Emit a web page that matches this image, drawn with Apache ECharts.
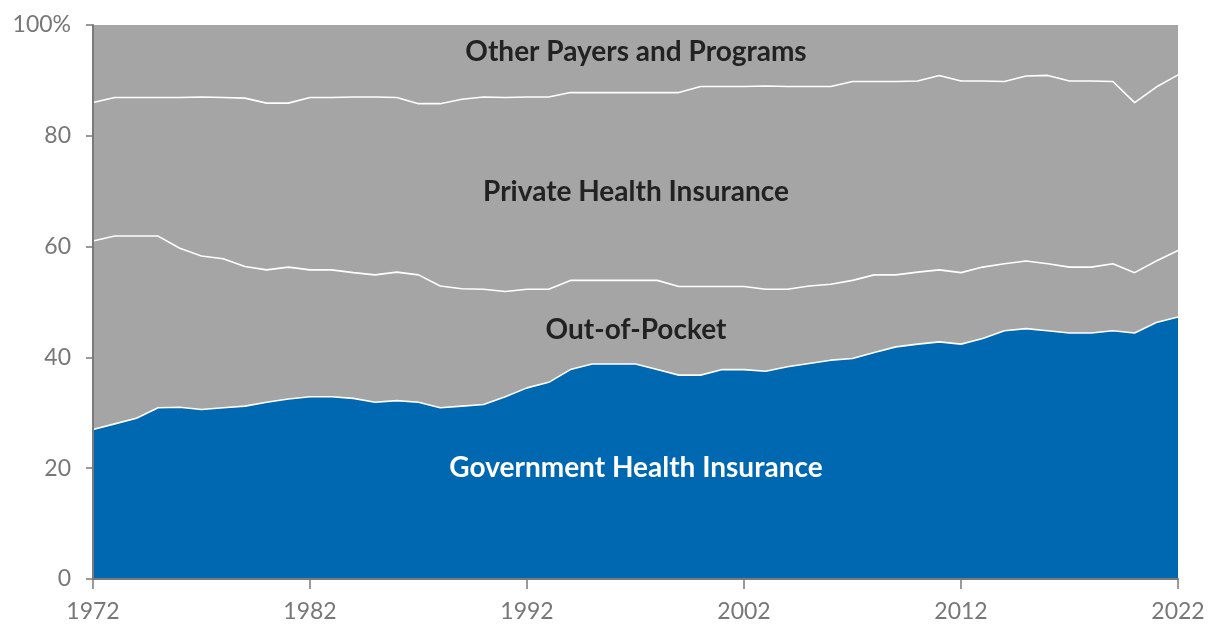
<!DOCTYPE html>
<html><head><meta charset="utf-8">
<script src="https://cdn.jsdelivr.net/npm/echarts@6/dist/echarts.min.js"></script>
<style>html,body{margin:0;padding:0;background:#fff}#c{width:1220px;height:642px}</style>
</head><body><div id="c"></div>
<script>
const years = [];
for (let y = 1972; y <= 2022; y++) years.push(String(y));
const government = [27.0,28.0,29.0,30.9,31.0,30.6,30.9,31.2,31.9,32.5,32.9,32.9,32.6,31.9,32.2,31.9,30.9,31.2,31.5,32.9,34.5,35.5,37.8,38.8,38.8,38.8,37.8,36.8,36.8,37.8,37.8,37.5,38.3,38.9,39.5,39.8,40.9,41.9,42.4,42.8,42.4,43.4,44.8,45.2,44.8,44.4,44.4,44.8,44.4,46.3,47.3];
const outOfPocket = [34.0,33.9,32.9,31.0,28.7,27.7,26.9,25.2,23.9,23.8,22.9,22.9,22.7,23.0,23.2,23.0,22.0,21.2,20.8,19.0,17.8,16.8,16.1,15.1,15.1,15.1,16.1,16.0,16.0,15.0,15.0,14.8,14.0,14.0,13.7,14.1,14.0,13.0,13.0,13.0,12.9,12.9,12.1,12.2,12.1,11.9,11.9,12.1,10.9,11.1,12.0];
const privateIns = [25.0,25.0,25.0,25.0,27.2,28.7,29.1,30.4,30.1,29.6,31.1,31.1,31.7,32.1,31.5,30.9,32.9,34.2,34.7,35.0,34.7,34.7,33.9,33.9,33.9,33.9,33.9,35.0,36.1,36.1,36.1,36.7,36.6,36.0,35.7,35.9,34.9,34.9,34.5,35.1,34.6,33.6,32.9,33.4,34.0,33.6,33.6,32.9,30.7,31.4,31.7];
const otherPayers = [14.0,13.1,13.1,13.1,13.1,13.0,13.1,13.2,14.1,14.1,13.1,13.1,13.0,13.0,13.1,14.2,14.2,13.4,13.0,13.1,13.0,13.0,12.2,12.2,12.2,12.2,12.2,12.2,11.1,11.1,11.1,11.0,11.1,11.1,11.1,10.2,10.2,10.2,10.1,9.1,10.1,10.1,10.2,9.2,9.1,10.1,10.1,10.2,14.0,11.2,9.0];
const seriesNames = ['Government Health Insurance','Out-of-Pocket','Private Health Insurance','Other Payers and Programs'];
const yTicks = [0,20,40,60,80,100];

const BLUE = '#0067b1', GREY = '#a5a5a5';
const chart = echarts.init(document.getElementById('c'), null, {renderer:'canvas'});
function mk(name, data, color, last) {
  return {
    name, type:'line', stack:'total', data, symbol:'none', smooth:false,
    lineStyle: last ? {width:0, color:'#fff'} : {width:1.6, color:'#fff'},
    areaStyle: {color, opacity:1}, z: 2
  };
}
const labelFont = 'Lato, "Open Sans", sans-serif';
const CX = 636;
function lbl(text, y, fill) {
  return {type:'text', x:CX, y, z:100,
    style:{text, fill, font:'bold 28px '+labelFont, textAlign:'center', textVerticalAlign:'middle'}};
}
chart.setOption({
  animation:false,
  grid:{left:93, right:42, top:25, bottom:63},
  xAxis:{
    type:'category', data:years, boundaryGap:false,
    axisLine:{show:true, lineStyle:{color:'#7a7a7a', width:2}},
    axisTick:{show:true, interval:9, length:10, lineStyle:{color:'#7a7a7a', width:1.5}},
    axisLabel:{interval:9, margin:21, color:'#777', fontSize:23, fontFamily:labelFont},
    splitLine:{show:false}, z:10
  },
  yAxis:{
    type:'value', min:0, max:100, interval:20,
    axisLine:{show:true, lineStyle:{color:'#7a7a7a', width:2}},
    axisTick:{show:true, length:7, lineStyle:{color:'#7a7a7a', width:1.5}},
    axisLabel:{margin:22, color:'#777', fontSize:23, fontFamily:labelFont,
      formatter:v => yTicks.includes(v) ? (v===100 ? '100%' : String(v)) : ''},
    splitLine:{show:false}, z:10
  },
  series:[
    mk(seriesNames[0], government, BLUE),
    mk(seriesNames[1], outOfPocket, GREY),
    mk(seriesNames[2], privateIns, GREY),
    mk(seriesNames[3], otherPayers, GREY, true)
  ],
  graphic:[
    lbl(seriesNames[3], 52, '#222'),
    lbl(seriesNames[2], 192, '#222'),
    lbl(seriesNames[1], 330, '#222'),
    lbl(seriesNames[0], 468, '#fff')
  ]
});
</script></body></html>
